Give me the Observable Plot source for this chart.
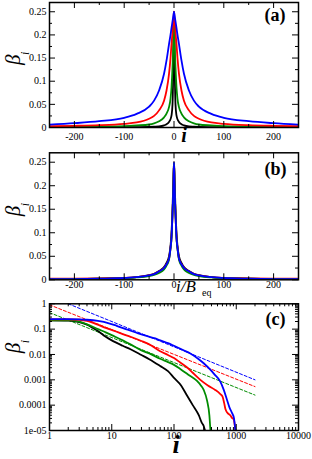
<!DOCTYPE html>
<html><head><meta charset="utf-8">
<script src="https://cdn.jsdelivr.net/npm/d3@7"></script>
<script src="https://cdn.jsdelivr.net/npm/@observablehq/plot@0.6"></script>
<style>
body{margin:0;background:#fff;}
#chart{position:relative;width:312px;height:459px;overflow:hidden;background:#fff;}
#chart svg{position:absolute;left:0;}
</style></head><body><div id="chart"></div>
<script>
// ---------- Panel (a): beta_i vs i ----------
const iA = [-250,-200,-150,-100,-75,-50,-40,-30,-20,-15,-10,-7,-5,-3,-2,-1,0,1,2,3,5,7,10,15,20,30,40,50,75,100,150,200,250];
const blueA  = [0.0062,0.0093,0.0136,0.021,0.0295,0.045,0.058,0.08,0.116,0.145,0.18,0.2,0.215,0.229,0.236,0.243,0.25,0.243,0.236,0.229,0.215,0.2,0.18,0.145,0.116,0.08,0.058,0.045,0.0295,0.021,0.0136,0.0093,0.0062];
const redA   = [0.0028,0.0036,0.005,0.008,0.011,0.019,0.025,0.037,0.058,0.08,0.116,0.15,0.18,0.205,0.22,0.235,0.25,0.235,0.22,0.205,0.18,0.15,0.116,0.08,0.058,0.037,0.025,0.019,0.011,0.008,0.005,0.0036,0.0028];
const greenA = [0.0007,0.0012,0.002,0.003,0.0045,0.0065,0.009,0.0135,0.022,0.03,0.044,0.062,0.087,0.13,0.16,0.21,0.25,0.21,0.16,0.13,0.087,0.062,0.044,0.03,0.022,0.0135,0.009,0.0065,0.0045,0.003,0.002,0.0012,0.0007];
const blackA = [0.0003,0.0004,0.0005,0.0007,0.0009,0.0012,0.0016,0.0022,0.0045,0.007,0.012,0.018,0.026,0.05,0.09,0.16,0.25,0.16,0.09,0.05,0.026,0.018,0.012,0.007,0.0045,0.0022,0.0016,0.0012,0.0009,0.0007,0.0005,0.0004,0.0003];

// ---------- Panel (b): beta_i vs i/B_eq (collapsed) ----------
const iB = [-250,-200,-150,-100,-75,-50,-40,-30,-20,-15,-10,-7,-5,-3,-2,-1,0,1,2,3,5,7,10,15,20,30,40,50,75,100,150,200,250];
const blackB = [0.0012,0.0016,0.0024,0.0038,0.0056,0.0097,0.0125,0.0185,0.027,0.036,0.05,0.072,0.1,0.15,0.185,0.225,0.25,0.225,0.185,0.15,0.1,0.072,0.05,0.036,0.027,0.0185,0.0125,0.0097,0.0056,0.0038,0.0024,0.0016,0.0012];
const redB   = [0.0022,0.0026,0.0032,0.0042,0.0058,0.0095,0.012,0.018,0.025,0.033,0.045,0.068,0.09,0.14,0.17,0.21,0.25,0.21,0.17,0.14,0.09,0.068,0.045,0.033,0.025,0.018,0.012,0.0095,0.0058,0.0042,0.0032,0.0026,0.0022];
const greenB = [0.0011,0.0015,0.0022,0.0034,0.005,0.008,0.0102,0.0145,0.022,0.03,0.043,0.066,0.088,0.14,0.17,0.21,0.25,0.21,0.17,0.14,0.088,0.066,0.043,0.03,0.022,0.0145,0.0102,0.008,0.005,0.0034,0.0022,0.0015,0.0011];
const blueB  = [0.0012,0.0016,0.0024,0.0038,0.0055,0.0095,0.012,0.018,0.025,0.033,0.045,0.068,0.09,0.14,0.17,0.21,0.25,0.21,0.17,0.14,0.09,0.068,0.045,0.033,0.025,0.018,0.012,0.0095,0.0055,0.0038,0.0024,0.0016,0.0012];

// ---------- Panel (c): log-log ----------
const blueCi  = [1,2,3,4,6,9,12,18,25,35,50,60,80,100,140,183,250,300,383,450,555,630,711,780,853,920,968];
const blueC   = [0.25,0.25,0.245,0.235,0.21,0.17,0.135,0.095,0.072,0.055,0.043,0.036,0.028,0.022,0.015,0.011,0.0065,0.0045,0.0025,0.0016,0.00085,0.0004,0.00016,0.00008,0.00005,0.00003,0.00001];
const redCi   = [1,2,3,4,6,8,11,15,20,30,40,60,80,100,126,170,200,265,350,460,550,600,640,670,720,800,870,910,950,970];
const redC    = [0.245,0.245,0.235,0.21,0.15,0.112,0.085,0.064,0.05,0.034,0.025,0.0135,0.0095,0.0072,0.0048,0.0028,0.0019,0.001,0.0006,0.0004,0.00028,0.00022,0.00012,0.00007,0.00005,0.00004,0.00003,0.000028,0.000015,0.00001];
const greenCi = [1,2,3,4,6,8,11,15,20,30,40,60,80,100,126,170,234,270,300,340,370,385];
const greenC  = [0.22,0.22,0.2,0.155,0.1,0.075,0.052,0.036,0.025,0.0145,0.011,0.0068,0.005,0.0039,0.0027,0.0016,0.0009,0.0006,0.0004,0.00015,0.00004,0.00001];
const blackCi = [1,2,3,4,5,6,8,10,15,20,30,40,60,80,100,130,160,200,250,280,300,315];
const blackC  = [0.22,0.215,0.19,0.15,0.11,0.085,0.05,0.036,0.022,0.016,0.0095,0.0065,0.0035,0.0022,0.0012,0.0006,0.00025,0.0001,0.00004,0.00002,0.000015,0.00001];
// dashed power-law guides (endpoints)
const blueFitI = [2,2000],  blueFit = [1,0.001];
const redFitI  = [1,2000],  redFit  = [0.91,0.00054];
const greenFitI= [1,2000],  greenFit= [0.45,0.00025];

// ticks
const linXMajor = [-200,-100,0,100,200];
const linXMinor = [-150,-50,50,150];
const linYMajor = [0,0.05,0.1,0.15,0.2,0.25];
const linYMinor = [0.025,0.075,0.125,0.175,0.225];
const logXMajor = [1,10,100,1000,10000];
const logXLabels = ["1","10","100","1000","10000"];
const logYMajor = [1e-5,1e-4,1e-3,1e-2,1e-1,1];
const logYLabels = ["1e-05","0.0001","0.001","0.01","0.1","1"];

const COLORS = {black:"#000000", red:"#ff0000", green:"#008c00", blue:"#0000ff"};
const SERIF = "'Liberation Serif','Times New Roman',serif";
const W = 312, ML = 49, MR = 14;
const CURVE = "monotone-x";

function rows(xs, ys){ return xs.map((x,k)=>({x, y: ys[k]})); }

function tickMarks(xMaj, xMin, yMaj, yMin, fw, fh){
  const M = 6, m = 3, s = {stroke:"black", strokeWidth:1};
  const out = [];
  for (const [v,len] of [[xMaj,M],[xMin,m]]) {
    out.push(Plot.ruleX(v,{x:d=>d, insetTop: fh-len, ...s}));
    out.push(Plot.ruleX(v,{x:d=>d, insetBottom: fh-len, ...s}));
  }
  for (const [v,len] of [[yMaj,M],[yMin,m]]) {
    out.push(Plot.ruleY(v,{y:d=>d, insetRight: fw-len, ...s}));
    out.push(Plot.ruleY(v,{y:d=>d, insetLeft: fw-len, ...s}));
  }
  return out;
}

function yLabel(dx, dy){
  return [
    Plot.text(["β"],{frameAnchor:"left", dx, dy, rotate:-90, fontSize:21, fontStyle:"italic", fontFamily:SERIF, fill:"black"}),
    Plot.text(["i"],{frameAnchor:"left", dx: dx+12, dy: dy-10, rotate:-90, fontSize:12, fontStyle:"italic", fontFamily:SERIF, fill:"black"})
  ];
}
function line(xs, ys, color, extra){
  return Plot.line(rows(xs,ys),{x:"x", y:"y", stroke:color, strokeWidth:1.8, curve:CURVE, clip:true, ...extra});
}

const chart = document.getElementById("chart");
function place(svg, top){ svg.style.top = top+"px"; svg.style.background="transparent"; svg.style.overflow="visible"; chart.appendChild(svg); }

// Panel A
{
  const H = 150, mt = 2, mb = 23;
  const fw = W-ML-MR, fh = H-mt-mb;
  const svg = Plot.plot({
    width: W, height: H, marginLeft: ML, marginRight: MR, marginTop: mt, marginBottom: mb,
    style:{fontFamily:SERIF, fontSize:"10px", color:"black"},
    x:{domain:[-250,250], label:null}, y:{domain:[0,0.27], label:null},
    marks:[
      line(iA, blackA, COLORS.black),
      line(iA, greenA, COLORS.green),
      line(iA, redA, COLORS.red),
      line(iA, blueA, COLORS.blue),
      ...tickMarks(linXMajor, linXMinor, linYMajor, linYMinor, fw, fh),
      Plot.frame({stroke:"black", strokeWidth:1.5}),
      Plot.axisX(linXMajor,{tickSize:0, tickPadding:5, tickFormat:d=>String(d), fontSize:10, label:null}),
      Plot.axisY(linYMajor,{tickSize:0, tickPadding:3, tickFormat:d=>String(d), fontSize:10, label:null}),
      Plot.text(["i"],{frameAnchor:"bottom", dx:10, dy:14, fontSize:20, fontStyle:"italic", fontWeight:"bold", fontFamily:SERIF}),
      Plot.text(["(a)"],{frameAnchor:"top-right", dx:-13, dy:6, textAnchor:"end", lineAnchor:"top", fontSize:18, fontWeight:"bold", fontFamily:SERIF}),
      ...yLabel(-36, 0)
    ]
  });
  place(svg, 0);
}

// Panel B
{
  const top = 148, H = 150, mt = 4.3, mb = 18.7;
  const fw = W-ML-MR, fh = H-mt-mb;
  const svg = Plot.plot({
    width: W, height: H, marginLeft: ML, marginRight: MR, marginTop: mt, marginBottom: mb,
    style:{fontFamily:SERIF, fontSize:"10px", color:"black"},
    x:{domain:[-250,250], label:null}, y:{domain:[0,0.27], label:null},
    marks:[
      line(iB, blackB, COLORS.black),
      line(iB, redB, COLORS.red),
      line(iB, greenB, COLORS.green),
      line(iB, blueB, COLORS.blue),
      ...tickMarks(linXMajor, linXMinor, linYMajor, linYMinor, fw, fh),
      Plot.frame({stroke:"black", strokeWidth:1.5}),
      Plot.axisX(linXMajor,{tickSize:0, tickPadding:1, tickFormat:d=>String(d), fontSize:10, label:null}),
      Plot.axisY(linYMajor,{tickSize:0, tickPadding:3, tickFormat:d=>String(d), fontSize:10, label:null}),
      Plot.text(["i/B"],{frameAnchor:"bottom", dx:2, dy:12, textAnchor:"start", fontSize:17, fontStyle:"italic", fontFamily:SERIF}),
      Plot.text(["eq"],{frameAnchor:"bottom", dx:28, dy:16, textAnchor:"start", fontSize:10, fontFamily:SERIF}),
      Plot.text(["(b)"],{frameAnchor:"top-right", dx:-12, dy:9, textAnchor:"end", lineAnchor:"top", fontSize:18, fontWeight:"bold", fontFamily:SERIF}),
      ...yLabel(-36, 0)
    ]
  });
  place(svg, top);
}

// Panel C
{
  const top = 298, H = 161, mt = 5.3, mb = 29;
  const fw = W-ML-MR, fh = H-mt-mb;
  const xMinor = d3.scaleLog().domain([1,10000]).ticks().filter(v=>!logXMajor.includes(v));
  const yMinor = d3.scaleLog().domain([1e-5,1]).ticks().filter(v=>!logYMajor.some(t=>Math.abs(t-v)/t<1e-6));
  const dash = {strokeWidth:1, strokeDasharray:"3,2", curve:"linear"};
  const svg = Plot.plot({
    width: W, height: H, marginLeft: ML, marginRight: MR, marginTop: mt, marginBottom: mb,
    style:{fontFamily:SERIF, fontSize:"10px", color:"black"},
    x:{type:"log", domain:[1,10000], label:null}, y:{type:"log", domain:[1e-5,1], label:null},
    marks:[
      line(blueFitI, blueFit, COLORS.blue, dash),
      line(redFitI, redFit, COLORS.red, dash),
      line(greenFitI, greenFit, COLORS.green, dash),
      line(blackCi, blackC, COLORS.black),
      line(greenCi, greenC, COLORS.green),
      line(redCi, redC, COLORS.red),
      line(blueCi, blueC, COLORS.blue),
      ...tickMarks(logXMajor, xMinor, logYMajor, yMinor, fw, fh),
      Plot.frame({stroke:"black", strokeWidth:1.5}),
      Plot.axisX(logXMajor,{tickSize:0, tickPadding:1, tickFormat:d=>logXLabels[logXMajor.indexOf(d)], fontSize:10, label:null}),
      Plot.axisY(logYMajor,{tickSize:0, tickPadding:3, tickFormat:d=>logYLabels[logYMajor.findIndex(t=>Math.abs(t-d)/t<1e-6)], fontSize:10, label:null}),
      Plot.text(["i"],{frameAnchor:"bottom", dx:2, dy:22, fontSize:26, fontStyle:"italic", fontWeight:"bold", fontFamily:SERIF}),
      Plot.text(["(c)"],{frameAnchor:"top-right", dx:-13, dy:8, textAnchor:"end", lineAnchor:"top", fontSize:18, fontWeight:"bold", fontFamily:SERIF}),
      ...yLabel(-36, -14)
    ]
  });
  place(svg, top);
}
</script></body></html>
